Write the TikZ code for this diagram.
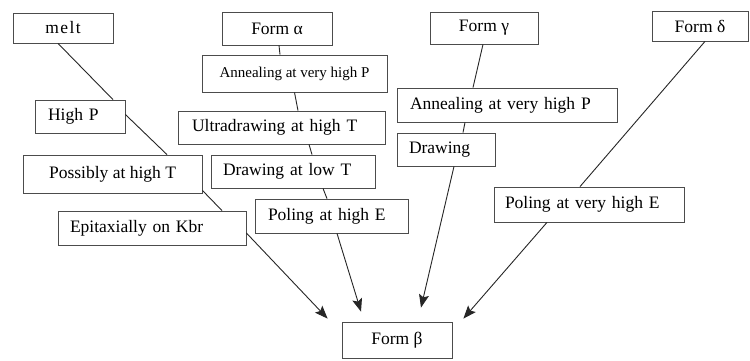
\documentclass[tikz,border=0pt]{standalone}
\usepackage{fontspec}
\setmainfont{Liberation Serif}
\usetikzlibrary{arrows.meta}
\tikzset{
  box/.style={draw=black!70, line width=0.8pt, inner sep=0pt, font=\fontsize{17.5}{20}\selectfont},
  smallbox/.style={box, font=\fontsize{15}{18}\selectfont},
  conn/.style={draw=black!85, line width=0.9pt},
  arr/.style={conn, -{Stealth[length=13pt,width=10pt,inset=2.5pt]}},
}
\begin{document}
\begin{tikzpicture}[x=1pt,y=-1pt]
\useasboundingbox[fill=white] (0,0) rectangle (750,361);
% boxes
\node[box, minimum width=100pt, minimum height=30pt] (melt) at (63,28) {\addfontfeature{LetterSpace=8}melt};
\node[box, minimum width=110pt, minimum height=33pt] (fa) at (277,28.5) {Form α};
\node[smallbox, minimum width=185pt, minimum height=37pt] (anna) at (294.5,73.5) {Annealing at very high P};
\node[box, minimum height=33pt, inner xsep=14pt, text width=179pt, align=left] (ultra) at (281.5,127.5) {Ultradrawing at high T};
\node[box, minimum height=33pt, inner xsep=12pt, text width=140pt, align=left] (drawlow) at (293,171.5) {Drawing at low T};
\node[box, minimum height=34pt, inner xsep=13pt, text width=127pt, align=left] (polhigh) at (331.5,216) {Poling at high E};
\node[box, minimum height=33pt, inner xsep=13pt, text width=64pt, align=left] (highp) at (80,116.5) {High P};
\node[box, minimum width=179pt, minimum height=38pt] (poss) at (112.5,174) {Possibly at high T};
\node[box, minimum height=34pt, inner xsep=12pt, text width=164pt, align=left] (epit) at (152,228) {Epitaxially on Kbr};
\node[box, minimum width=108pt, minimum height=32pt] (fg) at (484,28) {Form γ};
\node[box, minimum height=34pt, inner xsep=13pt, text width=194pt, align=left] (anng) at (507,105) {Annealing at very high P};
\node[box, minimum height=33pt, inner xsep=12pt, text width=74pt, align=left] (drawing) at (446,149.5) {Drawing};
\node[box, minimum width=96pt, minimum height=30pt] (fd) at (700,26) {Form δ};
\node[box, minimum height=35pt, inner xsep=11pt, text width=168pt, align=left] (polvh) at (589,204.5) {Poling at very high E};
\node[box, minimum width=110pt, minimum height=36pt] (fb) at (397,340) {Form β};
% melt chain
\draw[conn] ([xshift=-5pt]melt.south) -- ([xshift=33pt]highp.north);
\draw[conn] ([yshift=2pt]highp.east) -- ([xshift=54.5pt]poss.north);
\draw[conn] ([yshift=3pt]poss.south east) -- ([xshift=70pt]epit.north);
\draw[arr] ([yshift=-5pt]epit.east) -- ([xshift=-14pt,yshift=3pt]fb.north west);
% alpha chain
\draw[conn] ([xshift=2pt]fa.south) -- ([xshift=-14.5pt]anna.north);
\draw[conn] (anna.south) -- ([xshift=16.5pt]ultra.north);
\draw[conn] ([xshift=27.5pt]ultra.south) -- ([xshift=19pt]drawlow.north);
\draw[conn] ([xshift=30pt]drawlow.south) -- ([xshift=-4.5pt]polhigh.north);
\draw[arr] ([xshift=5.5pt]polhigh.south) -- ([xshift=-36pt,yshift=10pt]fb.north);
% gamma chain
\draw[conn] ([xshift=-1pt]fg.south) -- ([xshift=-34pt]anng.north);
\draw[conn] ([xshift=-42pt]anng.south) -- ([xshift=17pt]drawing.north);
\draw[arr] ([xshift=8pt]drawing.south) -- ([xshift=24pt,yshift=14pt]fb.north);
% delta chain
\draw[conn] ([xshift=5pt]fd.south) -- ([xshift=-9pt]polvh.north);
\draw[arr] ([xshift=-42pt]polvh.south) -- ([xshift=11pt,yshift=3pt]fb.north east);
\end{tikzpicture}
\end{document}
